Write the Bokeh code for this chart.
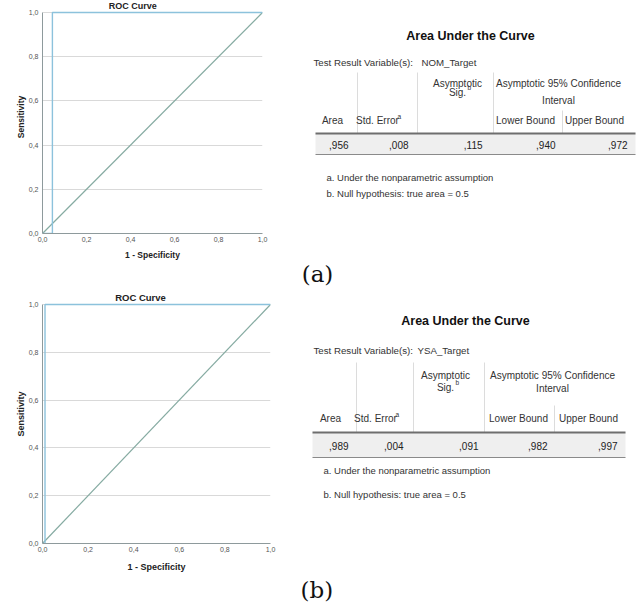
from bokeh.plotting import figure
from bokeh.models import Range1d, FixedTicker, CustomJSTickFormatter, Title
from bokeh.layouts import column, row
from bokeh.core.properties import value
from bokeh.embed import file_html
from bokeh.resources import INLINE

# ---------------- data ----------------
roc_a_fpr = [0.0, 0.045, 0.045, 1.0]
roc_a_tpr = [0.0, 0.0, 1.0, 1.0]
roc_b_fpr = [0.0, 0.011, 0.011, 1.0]
roc_b_tpr = [0.0, 0.0, 1.0, 1.0]
ref_fpr = [0.0, 1.0]
ref_tpr = [0.0, 1.0]
axis_ticks = [0.0, 0.2, 0.4, 0.6, 0.8, 1.0]

target_a = "NOM_Target"
target_b = "YSA_Target"
col_headers = ["Area", "Std. Error", "Lower Bound", "Upper Bound"]
stats_a = [0.956, 0.008, 0.115, 0.940, 0.972]
stats_b = [0.989, 0.004, 0.091, 0.982, 0.997]
footnotes = ["a. Under the nonparametric assumption",
             "b. Null hypothesis: true area = 0.5"]
captions = ["(a)", "(b)"]

SANS = "'Liberation Sans', Arial, sans-serif"
SERIF = "'DejaVu Serif', serif"

CURVE = "#8cc2dc"
DIAG = "#86aba2"
AXIS = "#8e9a9c"
GRID = "#d9d9d9"


def fmt(v):
    return "," + f"{v:.3f}".split(".")[1]


def make_roc(fpr, tpr, w, h, b_bottom, px_unit, top_gap, title_gap, title_x, fs, lfs, xstand):
    p = figure(width=w, height=h, x_range=Range1d(0, 1),
               y_range=Range1d(0, 1 + top_gap / px_unit), title=None,
               toolbar_location=None, output_backend="svg",
               min_border_left=42, min_border_right=26,
               min_border_top=0, min_border_bottom=b_bottom)
    p.outline_line_color = None
    p.xgrid.visible = False
    p.ygrid.ticker = FixedTicker(ticks=axis_ticks[1:])
    p.ygrid.grid_line_color = GRID
    formatter = CustomJSTickFormatter(code="return tick.toFixed(1).replace('.', ',');")
    for ax in (p.xaxis[0], p.yaxis[0]):
        ax.ticker = FixedTicker(ticks=axis_ticks)
        ax.formatter = formatter
        ax.bounds = (0, 1)
        ax.axis_line_color = AXIS
        ax.major_tick_line_color = None
        ax.minor_tick_line_color = None
        ax.major_tick_out = 0
        ax.major_tick_in = 0
        ax.minor_tick_out = 0
        ax.major_label_text_font = SANS
        ax.major_label_text_font_size = "7px"
        ax.major_label_text_color = "#555555"
        ax.axis_label_text_font = SANS
        ax.axis_label_text_font_style = "bold"
        ax.axis_label_text_font_size = lfs
        ax.axis_label_text_color = "#222222"
    p.xaxis.axis_label = "1 - Specificity"
    p.yaxis.axis_label = "Sensitivity"
    p.xaxis.major_label_standoff = 3
    p.yaxis.major_label_standoff = 4
    p.xaxis.axis_label_standoff = xstand
    p.yaxis.axis_label_standoff = 0
    p.line(ref_fpr, ref_tpr, line_color=DIAG, line_width=1.2)
    p.line(fpr, tpr, line_color=CURVE, line_width=1.4)
    p.text(x=[title_x], y=[1 + title_gap / px_unit], text=["ROC Curve"],
           text_align="center", text_baseline="middle",
           text_font=value(SANS), text_font_style="bold",
           text_font_size=fs, text_color="#222222")
    return p


def txt(p, x, y, t, align="left", size="10px", color="#333333", style="normal", font=SANS):
    p.text(x=x, y=y, text=t, text_align=align, text_baseline="middle",
           text_font=value(font), text_font_size=size, text_color=color,
           text_font_style=style)


def fill_table(p, stats, target, g):
    p.quad(left=[g["left"]], right=[g["right"]], top=[g["rule1"]], bottom=[g["rule2"]],
           fill_color="#efefef", line_color=None)
    p.segment(x0=g["sep"][:3], y0=[g["sep_top"]] * 3, x1=g["sep"][:3], y1=[g["rule1"]] * 3,
              line_color="#dcdcdc", line_width=1)
    p.segment(x0=[g["sep"][3]], y0=[g["sep4_top"]], x1=[g["sep"][3]], y1=[g["rule1"]],
              line_color="#dcdcdc", line_width=1)
    p.segment(x0=[g["left"]], y0=[g["rule1"]], x1=[g["right"]], y1=[g["rule1"]],
              line_color="#6e6e6e", line_width=2.2)
    p.segment(x0=[g["left"]], y0=[g["rule2"]], x1=[g["right"]], y1=[g["rule2"]],
              line_color="#8a8a8a", line_width=1)
    txt(p, [g["title_x"]], [g["title_y"]], ["Area Under the Curve"], align="center",
        size="12.5px", color="#111111", style="bold")
    txt(p, [313], [g["var_y"]], ["Test Result Variable(s):"], size="9.7px")
    txt(p, [g["target_x"]], [g["var_y"]], [target], size="9.7px")
    txt(p, [g["sig_x"], g["ci_x"]], [g["h1_y"], g["h1_y"]],
        ["Asymptotic", "Asymptotic 95% Confidence"], align="center")
    txt(p, [g["sig_x"], g["ci_x"]], [g["h2_y"], g["h2b_y"]], ["Sig.", "Interval"], align="center")
    txt(p, [g["sig_x"] + 10], [g["h2_y"] - 5], ["b"], size="6.5px")
    txt(p, g["hdr_x"], [g["h3_y"]] * 4, col_headers, align="center")
    txt(p, [g["hdr_x"][1] + 20], [g["h3_y"] - 4], ["a"], size="6.5px")
    txt(p, g["val_x"], [g["row_y"]] * 5, [fmt(v) for v in stats], align="right", color="#222222")
    txt(p, [g["left"] + 11] * 2, g["foot_y"], footnotes, size="9.5px")


# ROC (a): frame x 42..262, y 0..233 (1.0 at y=12)
roc_a = make_roc(roc_a_fpr, roc_a_tpr, 288, 284, 51, 221.0, 12, 7, 0.41, "9px", "8.5px", 5)
# ROC (b): frame x 42..270, y 284..543 (1.0 at y=304)
roc_b = make_roc(roc_b_fpr, roc_b_tpr, 296, 320, 61, 239.0, 20, 7, 0.43, "9.5px", "9px", 7)

# both tables in one figure, page coordinates
tab = figure(width=344, height=604, x_range=Range1d(296, 640), y_range=Range1d(543, 0),
             title=None, toolbar_location=None, output_backend="svg",
             min_border_left=0, min_border_right=0, min_border_top=0, min_border_bottom=61,
             x_axis_location=None, y_axis_location=None)
tab.outline_line_color = None
tab.xgrid.visible = False
tab.ygrid.visible = False

fill_table(tab, stats_a, target_a, dict(
    left=315, right=635, rule1=133, rule2=154, sep=[357, 417, 493, 562],
    sep_top=72, sep4_top=110, title_x=470, title_y=35, var_y=62, target_x=421,
    sig_x=457, ci_x=558, h1_y=83, h2_y=92, h2b_y=100, h3_y=120,
    hdr_x=[332, 377, 525, 594], val_x=[348, 408, 482, 555, 627], row_y=144,
    foot_y=[177, 193]))
fill_table(tab, stats_b, target_b, dict(
    left=312, right=625, rule1=432, rule2=457, sep=[356, 413, 484, 554],
    sep_top=362, sep4_top=405, title_x=465, title_y=320, var_y=350, target_x=417,
    sig_x=445, ci_x=552, h1_y=375, h2_y=387, h2b_y=388, h3_y=418,
    hdr_x=[330, 375, 518, 588], val_x=[348, 403, 478, 547, 617], row_y=445,
    foot_y=[470, 494]))

txt(tab, [317], [273], [captions[0]], align="center", size="23px", color="#111111", font=SERIF)

spacer = Title(text=" ", text_font_size="1px", standoff=28)
cap_b = Title(text=captions[1], align="left", offset=4, standoff=0,
              vertical_align="bottom",
              text_font=SERIF, text_font_size="23px", text_font_style="normal",
              text_color="#111111")
tab.add_layout(spacer, "below")
tab.add_layout(cap_b, "below")

layout = row(column(roc_a, roc_b), tab)
open("out.html", "w").write(file_html(layout, INLINE))
